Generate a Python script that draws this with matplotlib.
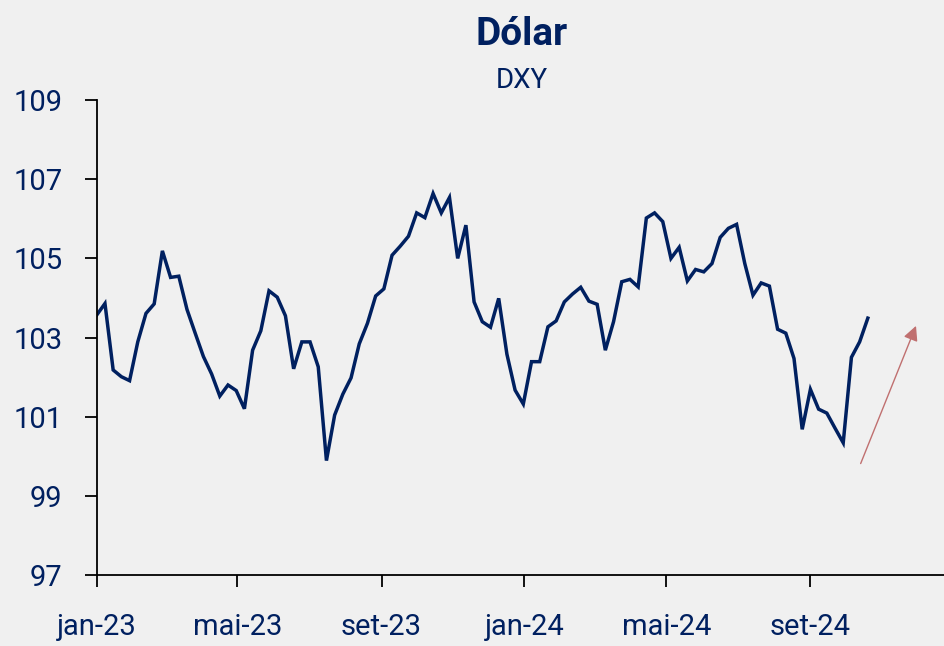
import matplotlib
matplotlib.use("Agg")
import matplotlib.pyplot as plt
import pandas as pd

# weekly DXY closes
dxy = [
    103.57, 103.86, 102.18, 102.01, 101.91, 102.89, 103.61, 103.85, 105.19, 104.52,
    104.55, 103.71, 103.11, 102.52, 102.08, 101.52, 101.80, 101.66, 101.20, 102.68,
    103.17, 104.18, 104.02, 103.55, 102.21, 102.89, 102.89, 102.26, 99.89, 101.04,
    101.57, 101.98, 102.84, 103.36, 104.05, 104.23, 105.08, 105.31, 105.56, 106.15,
    106.03, 106.64, 106.15, 106.54, 105.00, 105.84, 103.90, 103.40, 103.26, 103.99,
    102.58, 101.67, 101.32, 102.39, 102.39, 103.27, 103.42, 103.90, 104.10, 104.27,
    103.92, 103.84, 102.68, 103.40, 104.41, 104.47, 104.28, 106.02, 106.15, 105.93,
    105.00, 105.28, 104.43, 104.72, 104.66, 104.87, 105.53, 105.76, 105.86, 104.87,
    104.07, 104.38, 104.30, 103.21, 103.11, 102.47, 100.68, 101.69, 101.19, 101.09,
    100.71, 100.34, 102.50, 102.89, 103.49,
]
dates = pd.date_range("2023-01-01", periods=len(dxy), freq="7D")

tick_dates = pd.to_datetime(["2023-01-01", "2023-05-01", "2023-09-01",
                             "2024-01-01", "2024-05-01", "2024-09-01"])
tick_labels = ["jan-23", "mai-23", "set-23", "jan-24", "mai-24", "set-24"]
y_ticks = [97, 99, 101, 103, 105, 107, 109]

navy = "#002060"
bg = "#f0f0f0"

plt.rcParams["font.family"] = ["Roboto", "DejaVu Sans"]

fig = plt.figure(figsize=(9.44, 6.46), dpi=100, facecolor=bg)
ax = fig.add_axes([0.1025, 0.110, 0.8975, 0.735], facecolor=bg)

ax.plot(dates, dxy, color=navy, linewidth=2.5, solid_joinstyle="miter")

# trend arrow on the right
ax.annotate(
    "",
    xy=(pd.Timestamp("2024-12-01"), 103.36),
    xytext=(pd.Timestamp("2024-10-13"), 99.75),
    arrowprops=dict(arrowstyle="-|>", color="#c07070", lw=1.0, mutation_scale=22),
)

ax.set_ylim(97, 109)
ax.set_xlim(pd.Timestamp("2023-01-01"), pd.Timestamp("2024-12-24"))
ax.set_yticks(y_ticks)
ax.set_xticks(tick_dates)
ax.set_xticklabels(tick_labels)

for side in ["top", "right"]:
    ax.spines[side].set_visible(False)
for side in ["left", "bottom"]:
    ax.spines[side].set_color("black")
    ax.spines[side].set_linewidth(1.3)

ax.tick_params(axis="both", direction="out", length=8.6, width=1.3, color="black",
               labelcolor=navy, labelsize=21)
ax.tick_params(axis="x", pad=19)
ax.tick_params(axis="y", pad=16)

fig.text(0.553, 0.946, "Dólar", ha="center", va="center", fontsize=28,
         fontweight="bold", color=navy)
fig.text(0.553, 0.876, "DXY", ha="center", va="center", fontsize=20, color=navy)

fig.savefig("out.png", dpi=100, facecolor=bg)
